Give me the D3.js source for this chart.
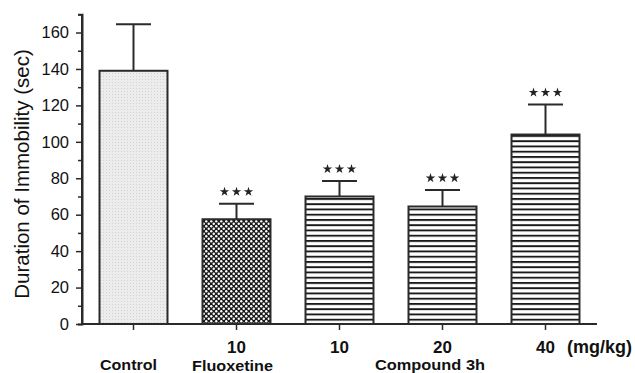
<!DOCTYPE html>
<html>
<head>
<meta charset="utf-8">
<script src="https://cdn.jsdelivr.net/npm/d3@7"></script>
<style>
  html, body { margin: 0; padding: 0; background: #fff; }
  svg { display: block; }
  text { font-family: "Liberation Sans", Arial, sans-serif; fill: #111; }
</style>
</head>
<body>
<svg id="chart" width="635" height="373"></svg>
<script>
// ---- data ----
const categories = ["Control", "Fluoxetine 10", "Compound 3h 10", "Compound 3h 20", "Compound 3h 40"];
const doseLabels = ["", "10", "10", "20", "40"];
const values = [139, 57.5, 70, 64.5, 104];
const errors = [25.5, 8.5, 8.5, 9, 16.5];
const significance = ["", "***", "***", "***", "***"];
const fills = ["dots", "checker", "lines", "lines", "lines"];
const yTicks = [0, 20, 40, 60, 80, 100, 120, 140, 160];
const yMinorTicks = [10, 30, 50, 70, 90, 110, 130, 150, 170];
const yLabel = "Duration of Immobility (sec)";
const groupLabels = ["Control", "Fluoxetine", "Compound 3h"];
const unitLabel = "(mg/kg)";

// ---- layout ----
const svg = d3.select("#chart");
const x0 = 82, x1 = 597, yBottom = 324;
const y = d3.scaleLinear().domain([0, 170]).range([yBottom, 14.3]);
const x = d3.scaleBand().domain(categories).range([x0, x1]).paddingInner(0.34).paddingOuter(0.17);
const ink = "#2a2a2a";

// ---- patterns ----
const defs = svg.append("defs");
const pd = defs.append("pattern").attr("id", "dots").attr("patternUnits", "userSpaceOnUse").attr("width", 3).attr("height", 3);
pd.append("rect").attr("width", 3).attr("height", 3).attr("fill", "#ececec");
pd.append("rect").attr("x", 1).attr("y", 1).attr("width", 1).attr("height", 1).attr("fill", "#d2d2d2");

const pc = defs.append("pattern").attr("id", "checker").attr("patternUnits", "userSpaceOnUse").attr("width", 5).attr("height", 5);
pc.append("rect").attr("width", 5).attr("height", 5).attr("fill", "#1a1a1a");
pc.append("circle").attr("cx", 1.25).attr("cy", 1.25).attr("r", 1.2).attr("fill", "#fff");
pc.append("circle").attr("cx", 3.75).attr("cy", 3.75).attr("r", 1.2).attr("fill", "#fff");

const pl = defs.append("pattern").attr("id", "lines").attr("patternUnits", "userSpaceOnUse").attr("width", 10).attr("height", 5.25).attr("y", yBottom);
pl.append("rect").attr("width", 10).attr("height", 5.25).attr("fill", "#fff");
pl.append("rect").attr("y", 0).attr("width", 10).attr("height", 1.9).attr("fill", "#1a1a1a");

// ---- bars ----
const bars = svg.append("g");
bars.selectAll("rect").data(categories).join("rect")
  .attr("x", d => x(d))
  .attr("y", (d, i) => y(values[i]))
  .attr("width", x.bandwidth())
  .attr("height", (d, i) => yBottom - y(values[i]))
  .attr("fill", (d, i) => `url(#${fills[i]})`)
  .attr("stroke", ink)
  .attr("stroke-width", 2);

// ---- error bars ----
const capW = 35;
const eg = svg.append("g").attr("stroke", ink).attr("stroke-width", 2);
categories.forEach((c, i) => {
  const cx = x(c) + x.bandwidth() / 2;
  eg.append("line").attr("x1", cx).attr("x2", cx).attr("y1", y(values[i])).attr("y2", y(values[i] + errors[i]));
  eg.append("line").attr("x1", cx - capW / 2).attr("x2", cx + capW / 2).attr("y1", y(values[i] + errors[i])).attr("y2", y(values[i] + errors[i]));
});

// ---- significance (stars) ----
const starG = svg.append("g");
const star = d3.symbol().type(d3.symbolStar).size(28);
categories.forEach((c, i) => {
  const n = significance[i].length;
  const cx = x(c) + x.bandwidth() / 2;
  const cy = y(values[i] + errors[i]) - 12;
  for (let k = 0; k < n; k++) {
    starG.append("path")
      .attr("d", star())
      .attr("transform", `translate(${cx + (k - (n - 1) / 2) * 12},${cy})`)
      .attr("fill", "#222");
  }
});

// ---- y axis ----
const yAxis = svg.append("g").attr("transform", `translate(${x0},0)`);
yAxis.call(d3.axisLeft(y).tickValues(yTicks).tickSize(6).tickPadding(7).tickFormat(d3.format("d")));
yAxis.append("g").call(d3.axisLeft(y).tickValues(yMinorTicks).tickSize(4).tickFormat(""));
yAxis.selectAll("path").attr("stroke", ink).attr("stroke-width", 2);
yAxis.selectAll("line").attr("stroke", ink).attr("stroke-width", 1.5);
yAxis.selectAll("text").attr("font-size", 16.5).attr("fill", "#111")
  .style("font-family", "'Liberation Sans', Arial, sans-serif");
yAxis.select(".domain").attr("d", `M-0,${y(170)}V${yBottom}`);

// ---- x axis ----
const xAxis = svg.append("g").attr("transform", `translate(0,${yBottom})`);
xAxis.call(d3.axisBottom(x).tickSize(6).tickFormat(""));
xAxis.selectAll("path").attr("stroke", ink).attr("stroke-width", 2).attr("d", `M${x0},0H${x1}`);
xAxis.selectAll("line").attr("stroke", ink).attr("stroke-width", 1.5);

// dose labels
svg.append("g").selectAll("text").data(categories).join("text")
  .attr("x", d => x(d) + x.bandwidth() / 2)
  .attr("y", 353)
  .attr("text-anchor", "middle")
  .attr("font-size", 17)
  .attr("font-weight", "bold")
  .text((d, i) => doseLabels[i]);

// group labels
const gl = svg.append("g").attr("font-weight", "bold");
gl.append("text").attr("x", x(categories[0]) + x.bandwidth() / 2 - 5).attr("y", 369.5)
  .attr("text-anchor", "middle").attr("font-size", 15)
  .attr("textLength", 57).attr("lengthAdjust", "spacingAndGlyphs").text(groupLabels[0]);
gl.append("text").attr("x", x(categories[1]) + x.bandwidth() / 2 - 4).attr("y", 370.5)
  .attr("text-anchor", "middle").attr("font-size", 15)
  .attr("textLength", 81).attr("lengthAdjust", "spacingAndGlyphs").text(groupLabels[1]);
gl.append("text").attr("x", (x(categories[2]) + x(categories[3]) + x.bandwidth()) / 2 + 39).attr("y", 369.5)
  .attr("text-anchor", "middle").attr("font-size", 15)
  .attr("textLength", 110).attr("lengthAdjust", "spacingAndGlyphs").text(groupLabels[2]);
gl.append("text").attr("x", 567).attr("y", 353)
  .attr("text-anchor", "start").attr("font-size", 17.5)
  .attr("textLength", 65).attr("lengthAdjust", "spacingAndGlyphs").text(unitLabel);

// y label
svg.append("text")
  .attr("transform", "translate(29,174) rotate(-90)")
  .attr("text-anchor", "middle")
  .attr("font-size", 20.5)
  .attr("fill", "#222")
  .text(yLabel);
</script>
</body>
</html>
